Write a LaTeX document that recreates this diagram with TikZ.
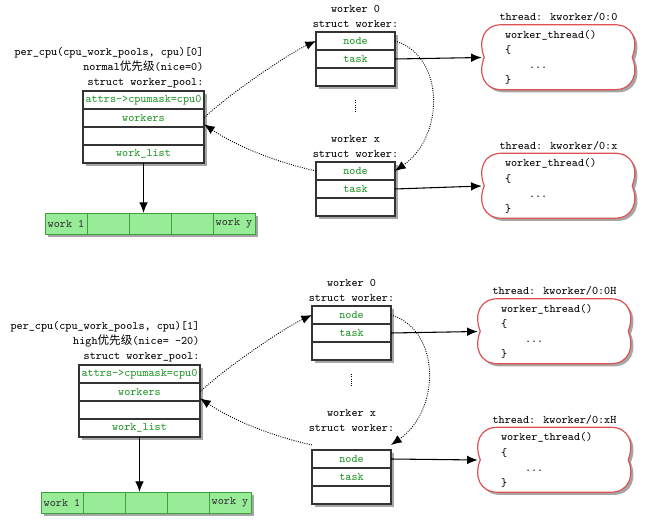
\documentclass[tikz,border=0pt]{standalone}
\usepackage{fontspec}
\newfontfamily\cjk{Noto Sans CJK SC}
\usetikzlibrary{positioning,calc,shadows,arrows.meta,backgrounds}
\definecolor{cgreen}{RGB}{34,150,40}
\definecolor{cfill}{RGB}{152,236,152}
\definecolor{cedge}{RGB}{60,160,60}
\definecolor{cred}{RGB}{222,82,82}
\def\px{0.75pt}
\tikzset{mono/.style={font=\ttfamily\fontsize{8.7pt}{11.3pt}\selectfont},
         shd/.style={drop shadow={shadow xshift=2pt,shadow yshift=-2pt,opacity=0.35,fill=black}}}
\tikzset{row/.style={draw=black!80,line width=0.8pt,fill=white,shd,mono,text=cgreen,
                     minimum height=18*\px,inner sep=0pt,outer sep=0pt},
         prow/.style={row,minimum width=121*\px},
         wrow/.style={row,minimum width=79*\px},
         cell/.style={draw=cedge,fill=cfill,line width=0.7pt,shd,mono,text=black!80,
                      minimum width=42*\px,minimum height=21*\px,inner sep=0pt,outer sep=0pt},
         lbl/.style={mono,text=black,inner sep=1pt},
         thread/.style={mono,text=black,text width=107*\px,inner xsep=23*\px,inner ysep=2pt,
                        minimum height=65*\px,align=left},
         ptr/.style={densely dotted,line width=0.7pt,-{Latex[length=8pt,width=6.5pt]}},
         link/.style={line width=0.8pt,-{Latex[length=8pt,width=6.5pt]}}}
% rounded outline of a thread box, drawn behind its text
\newcommand{\cloudedge}[1]{%
  \begin{scope}[on background layer]
  \draw[cred,line width=0.9pt,fill=white,shd,shift={(#1.north west)}]
    (20,0) -- (133,0) .. controls (151,0) and (157,16) .. (150.5,32.5)
    .. controls (157,49) and (151,65) .. (133,65) -- (20,65)
    .. controls (2,65) and (-4,49) .. (2.5,32.5)
    .. controls (-4,16) and (2,0) .. (20,0) -- cycle;
  \end{scope}}

\begin{document}
\begin{tikzpicture}[x=0.75pt,y=-0.75pt]
  \useasboundingbox (0,0) rectangle (646,523);
  \foreach \s/\dx/\dy/\gap/\ady/\src/\idx/\prio/\suf in
     {A/0/0/0/0/task/0/{normal{\cjk 优先级}(nice=0)}/{},
      B/-4/274/14/5/node/1/{high{\cjk 优先级}(nice= -20)}/H} {
    % worker_pool
    \node[prow] (attrs\s) at (143.5+\dx,100+\dy) {attrs->cpumask=cpu0};
    \node[prow,below=0pt of attrs\s] (workers\s) {workers};
    \node[prow,below=0pt of workers\s] (gap\s) {};
    \node[prow,below=0pt of gap\s] (wlist\s) {work\_list};
    \node[lbl,align=right,anchor=south east] (plbl\s) at ($(attrs\s.north east)+(1,-1)$)
      {per\_cpu(cpu\_work\_pools, cpu)[\idx]\\\prio\\struct worker\_pool:};
    % work list
    \node[cell] (wa\s) at (66+\dx,223.5+\dy+\ady) {work 1};
    \node[cell,right=0pt of wa\s] (wb\s) {};
    \node[cell,right=0pt of wb\s] (wc\s) {};
    \node[cell,right=0pt of wc\s] (wd\s) {};
    \node[cell,right=0pt of wd\s] (we\s) {\raisebox{-3pt}{work y}};
    \draw[link] (wlist\s.south) -- (wlist\s.south |- wc\s.north);
    % worker 0
    \node[wrow] (node0\s) at (355.5+\dx,41+\dy) {node};
    \node[wrow,below=0pt of node0\s] (task0\s) {task};
    \node[wrow,below=0pt of task0\s] (emp0\s) {};
    \node[lbl,align=center,above=2pt of node0\s] (wlbl0\s) {worker 0\\struct worker:};
    \draw[densely dotted,line width=0.7pt] (355.5+\dx,100+\dy) -- (355.5+\dx,113+\dy);
    % worker x
    \coordinate (xtop\s) at (355.5+\dx,162+\dy);
    \coordinate (xe\s) at (395+\dx,171+\dy);
    \coordinate (xw\s) at (316+\dx,171+\dy);
    \node[wrow] (nodex\s) at (355.5+\dx,171+\dy+\gap) {node};
    \node[wrow,below=0pt of nodex\s] (taskx\s) {task};
    \node[wrow,below=0pt of taskx\s] (empx\s) {};
    \node[lbl,align=center,above=2pt of xtop\s] (wlblx\s) {worker x\\struct worker:};
    % threads
    \node[thread] (thr0\s) at (558.5+\dx,57.5+\dy) {worker\_thread()\\\{\\\hspace*{18pt}...\\\}};
    \node[lbl,above=1pt of thr0\s] (tlbl0\s) {thread: kworker/0:0\suf};
    \cloudedge{thr0\s}
    \node[thread] (thrx\s) at (558.5+\dx,186+\dy) {worker\_thread()\\\{\\\hspace*{18pt}...\\\}};
    \node[lbl,above=1pt of thrx\s] (tlblx\s) {thread: kworker/0:x\suf};
    \cloudedge{thrx\s}
    \draw[link] (task0\s.east) -- (thr0\s.west);
    \draw[link] (\src x\s.east) -- (thrx\s.west);
    % list pointers
    \draw[ptr] (workers\s.east) .. controls +(20,-20) and +(-30,14) .. (node0\s.west);
    \draw[ptr] (node0\s.east) .. controls +(50,15) and +(50,-35) .. (xe\s);
    \draw[ptr] (xw\s) .. controls +(-45,-10) and +(30,20) .. (workers\s.-6);
  }
\end{tikzpicture}
\end{document}
